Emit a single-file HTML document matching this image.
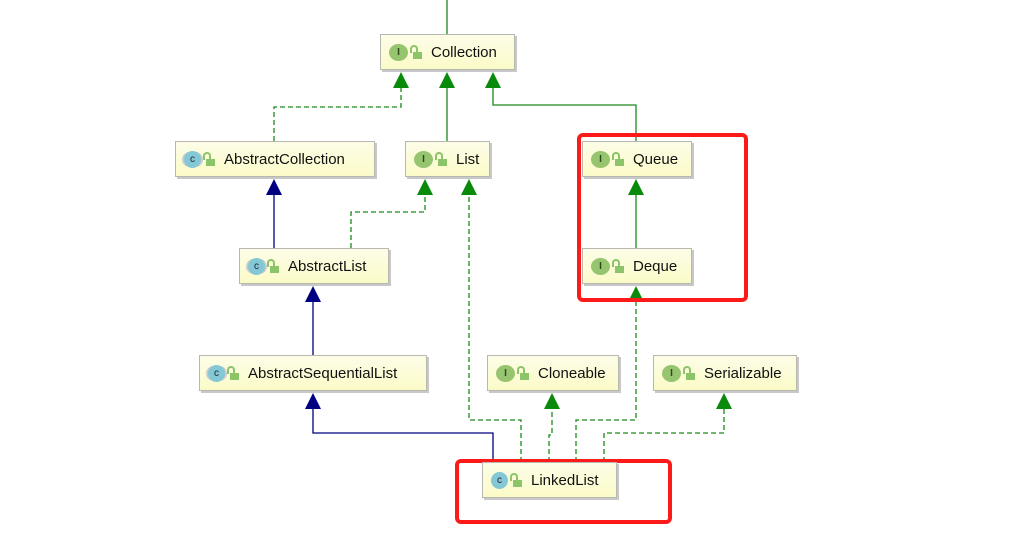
<!DOCTYPE html>
<html><head><meta charset="utf-8"><style>
body{margin:0;width:1015px;height:547px;background:#fff;position:relative;overflow:hidden;font-family:"Liberation Sans","DejaVu Sans",sans-serif}
.b{position:absolute;height:36px;box-sizing:border-box;border:1px solid #b8b8b0;background:linear-gradient(#fdfde8,#fbfbc8);box-shadow:2px 2px 0 #c8c8c8;font-size:15px;color:#111;display:flex;align-items:center;padding-left:8px}
.i{width:19px;height:17px;border-radius:50%;background:#97c46f;color:#2c4a1c;font-size:10px;font-weight:bold;display:inline-flex;align-items:center;justify-content:center;margin-right:5px}
.c{width:17px;height:17px;border-radius:50%;background:#84c8d6;color:#223;font-size:10px;display:inline-flex;align-items:center;justify-content:center;margin-right:5px}
.ca{box-shadow:-3px 0 0 -1px #ccc,3px 0 0 -1px #ccc}
.l{width:9px;height:7px;background:#8cc46a;display:inline-block;margin-right:9px;position:relative;top:3px}
.l:before{content:"";position:absolute;left:-3px;top:-7px;width:4px;height:6px;border:2px solid #8cc46a;border-bottom:none;border-radius:4px 4px 0 0}
svg{position:absolute;left:0;top:0}
</style></head><body>
<svg width="1015" height="547">
<g fill="none" stroke-width="1.3">
<path d="M447 0V34" stroke="#1a8a1a"/>
<path d="M274 141V107H401V86" stroke="#1a8a1a" stroke-dasharray="5,3"/>
<path d="M447 141V86" stroke="#1a8a1a"/>
<path d="M636 141V105H493V86" stroke="#1a8a1a"/>
<path d="M274 248V193" stroke="#000080"/>
<path d="M351 248V212H425V193" stroke="#1a8a1a" stroke-dasharray="5,3"/>
<path d="M636 248V193" stroke="#1a8a1a"/>
<path d="M313 355V300" stroke="#000080"/>
<path d="M493 462V433H313V407" stroke="#000080"/>
<path d="M521 462V420H469V193" stroke="#1a8a1a" stroke-dasharray="5,3"/>
<path d="M549 462V435H552V407" stroke="#1a8a1a" stroke-dasharray="5,3"/>
<path d="M576 462V420H636V300" stroke="#1a8a1a" stroke-dasharray="5,3"/>
<path d="M604 462V433H724V407" stroke="#1a8a1a" stroke-dasharray="5,3"/>
</g>
<g fill="#0a8a0a">
<path d="M401 72l-8 16h16z"/><path d="M447 72l-8 16h16z"/><path d="M493 72l-8 16h16z"/>
<path d="M425 179l-8 16h16z"/><path d="M469 179l-8 16h16z"/><path d="M636 179l-8 16h16z"/>
<path d="M636 286l-8 16h16z"/><path d="M552 393l-8 16h16z"/><path d="M724 393l-8 16h16z"/>
</g>
<g fill="#000080">
<path d="M274 179l-8 16h16z"/><path d="M313 286l-8 16h16z"/><path d="M313 393l-8 16h16z"/>
</g>
<g fill="none" stroke="#ff1a1a" stroke-width="4">
<rect x="579" y="135" width="167" height="165" rx="4"/>
<rect x="457" y="461" width="213" height="61" rx="4"/>
</g>
</svg>
<div class="b" style="left:380px;top:34px;width:135px"><span class="i">I</span><span class="l"></span>Collection</div>
<div class="b" style="left:175px;top:141px;width:200px"><span class="c ca">c</span><span class="l"></span>AbstractCollection</div>
<div class="b" style="left:405px;top:141px;width:85px"><span class="i">I</span><span class="l"></span>List</div>
<div class="b" style="left:582px;top:141px;width:110px"><span class="i">I</span><span class="l"></span>Queue</div>
<div class="b" style="left:239px;top:248px;width:150px"><span class="c ca">c</span><span class="l"></span>AbstractList</div>
<div class="b" style="left:582px;top:248px;width:110px"><span class="i">I</span><span class="l"></span>Deque</div>
<div class="b" style="left:199px;top:355px;width:228px"><span class="c ca">c</span><span class="l"></span>AbstractSequentialList</div>
<div class="b" style="left:487px;top:355px;width:132px"><span class="i">I</span><span class="l"></span>Cloneable</div>
<div class="b" style="left:653px;top:355px;width:144px"><span class="i">I</span><span class="l"></span>Serializable</div>
<div class="b" style="left:482px;top:462px;width:135px"><span class="c">c</span><span class="l"></span>LinkedList</div>
</body></html>
